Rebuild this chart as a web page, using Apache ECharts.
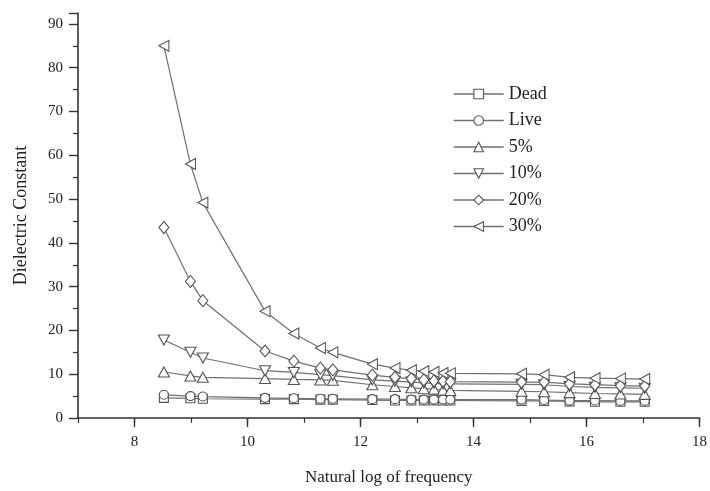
<!DOCTYPE html>
<html>
<head>
<meta charset="utf-8">
<script src="https://cdn.jsdelivr.net/npm/echarts@6/dist/echarts.min.js"></script>
<style>html,body{margin:0;padding:0;background:#fff}#c{width:710px;height:491px}</style>
</head>
<body>
<div id="c"></div>
<script>
var xValues = [8.52, 8.99, 9.21, 10.31, 10.82, 11.29, 11.51, 12.21, 12.61, 12.90, 13.12, 13.30, 13.46, 13.59, 14.85, 15.25, 15.70, 16.15, 16.60, 17.03];
var dead = [4.6, 4.5, 4.4, 4.3, 4.3, 4.2, 4.2, 4.1, 4.0, 4.0, 4.0, 4.0, 4.0, 4.0, 3.9, 3.9, 3.8, 3.7, 3.7, 3.7];
var live = [5.3, 5.0, 4.9, 4.6, 4.5, 4.4, 4.4, 4.3, 4.3, 4.2, 4.2, 4.2, 4.2, 4.2, 4.2, 4.1, 4.0, 4.0, 3.9, 3.9];
var p5 = [10.5, 9.6, 9.3, 9.0, 8.8, 8.7, 8.6, 7.6, 7.2, 6.9, 6.7, 6.6, 6.4, 6.3, 6.1, 6.0, 5.8, 5.6, 5.5, 5.4];
var p10 = [17.8, 15.0, 13.7, 10.8, 10.4, 9.9, 9.7, 8.7, 8.4, 8.2, 8.0, 7.9, 7.8, 7.8, 7.7, 7.6, 7.2, 7.0, 6.9, 6.8];
var p20 = [43.5, 31.2, 26.8, 15.3, 13.0, 11.4, 11.0, 9.8, 9.3, 9.0, 8.7, 8.5, 8.4, 8.3, 8.2, 8.2, 7.8, 7.6, 7.4, 7.3];
var p30 = [85.0, 58.0, 49.2, 24.4, 19.3, 16.0, 15.0, 12.3, 11.4, 10.9, 10.7, 10.5, 10.3, 10.2, 10.1, 9.9, 9.3, 9.1, 9.0, 8.9];
var xMajorTicks = [8, 10, 12, 14, 16, 18];
var seriesNames = ['Dead', 'Live', '5%', '10%', '20%', '30%'];

var seriesData = [dead, live, p5, p10, p20, p30];
var symbols = ['rect', 'circle', 'triangle', 'triangle', 'diamond', 'triangle'];
var rotates = [0, 0, 0, 180, 0, 90];
var sizes = [[9, 9], [9, 9], [11, 10], [11, 10], [10, 12], [11, 10]];

function pairs(arr) {
  return xValues.map(function (x, i) { return [x, arr[i]]; });
}

var series = seriesNames.map(function (n, k) {
  return {
    name: n,
    type: 'line',
    xAxisIndex: 0,
    data: pairs(seriesData[k]),
    symbol: symbols[k],
    symbolRotate: rotates[k],
    symbolSize: sizes[k],
    showAllSymbol: true,
    lineStyle: { color: '#707070', width: 1.2 },
    itemStyle: { color: '#fff', borderColor: '#555', borderWidth: 1.1 },
    emphasis: { disabled: true },
    animation: false,
    z: 2 + k
  };
});

var chart = echarts.init(document.getElementById('c'), null, { renderer: 'canvas' });
chart.setOption({
  backgroundColor: '#fff',
  animation: false,
  textStyle: { fontFamily: 'Liberation Serif' },
  grid: { left: 78, right: 8, top: 13, bottom: 68, containLabel: false },
  legend: {
    orient: 'vertical',
    left: 448,
    top: 80,
    itemWidth: 50,
    itemHeight: 12,
    itemGap: 8.5,
    data: seriesNames,
    itemStyle: { color: '#fff', borderColor: '#555', borderWidth: 1.1 },
    lineStyle: { color: '#707070', width: 1.4 },
    textStyle: { fontFamily: 'Liberation Serif', fontSize: 18, color: '#222' },
    selectedMode: false
  },
  xAxis: [{
    type: 'value',
    min: 7,
    max: 18,
    position: 'bottom',
    splitLine: { show: false },
    axisLine: { show: true, onZero: false, lineStyle: { color: '#333', width: 1.6 } },
    axisTick: { show: true, length: 9, customValues: xMajorTicks, lineStyle: { color: '#333', width: 1.4 } },
    axisLabel: { customValues: xMajorTicks, margin: 17, fontSize: 15, color: '#222', fontFamily: 'Liberation Serif' },
    name: 'Natural log of frequency',
    nameLocation: 'middle',
    nameGap: 51,
    nameTextStyle: { fontSize: 17, color: '#222', fontFamily: 'Liberation Serif' }
  }, {
    type: 'value',
    min: 7,
    max: 18,
    interval: 1,
    position: 'bottom',
    splitLine: { show: false },
    axisLine: { show: false },
    axisTick: { show: true, length: 5, lineStyle: { color: '#333', width: 1.2 } },
    axisLabel: { show: false }
  }],
  yAxis: {
    type: 'value',
    min: 0,
    max: 92.5,
    interval: 10,
    splitLine: { show: false },
    axisLine: { show: true, lineStyle: { color: '#333', width: 1.6 } },
    axisTick: { show: true, length: 9, lineStyle: { color: '#333', width: 1.4 } },
    minorTick: { show: true, splitNumber: 2, length: 5, lineStyle: { color: '#333', width: 1.2 } },
    axisLabel: { showMaxLabel: false, margin: 15, fontSize: 15, color: '#222', fontFamily: 'Liberation Serif' },
    name: 'Dielectric Constant',
    nameLocation: 'middle',
    nameGap: 48,
    nameTextStyle: { fontSize: 18, color: '#222', fontFamily: 'Liberation Serif' }
  },
  series: series
});
</script>
</body>
</html>
